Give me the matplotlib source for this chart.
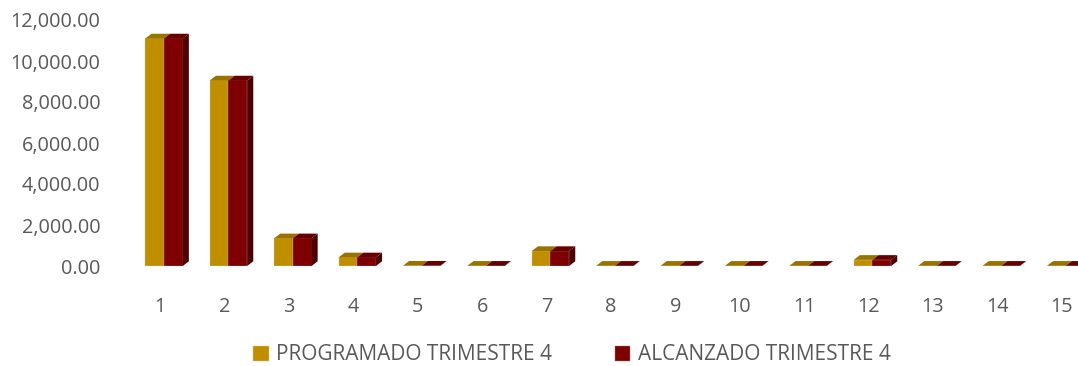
import matplotlib.pyplot as plt
from matplotlib.patches import Polygon

# datos
categorias = list(range(1, 16))
programado = [11100, 9050, 1350, 420, 15, 10, 730, 10, 10, 10, 10, 300, 10, 10, 10]
alcanzado = [11100, 9050, 1350, 420, 15, 10, 730, 10, 10, 10, 10, 300, 10, 10, 10]
etiquetas = ["PROGRAMADO TRIMESTRE 4", "ALCANZADO TRIMESTRE 4"]

color_prog = "#BF8F00"
color_prog_top = "#997300"
color_alc = "#7F0000"
color_alc_top = "#660000"
color_alc_side = "#4C0000"
gris = "#595959"

plt.rcParams['font.family'] = ['Open Sans', 'DejaVu Sans']

fig = plt.figure(figsize=(10.78, 3.66), dpi=100)
ax = fig.add_axes([128 / 1078, 100 / 366, (1094 - 128) / 1078, 246 / 366])

ancho = 0.29
dx = 0.095
dy = 230

x_prog = [c - 0.085 for c in categorias]
x_alc = [c + 0.205 for c in categorias]

ax.bar(x_prog, programado, width=ancho, color=color_prog, edgecolor="#d8c8a0",
       linewidth=0.3, label=etiquetas[0], zorder=2)
ax.bar(x_alc, alcanzado, width=ancho, color=color_alc, edgecolor="#b08080",
       linewidth=0.3, label=etiquetas[1], zorder=2)

# caras superiores y laterales para el efecto 3D
for xp, xa, vp, va in zip(x_prog, x_alc, programado, alcanzado):
    l, r = xp - ancho / 2, xp + ancho / 2
    ax.add_patch(Polygon([(l, vp), (r, vp), (r + dx, vp + dy), (l + dx, vp + dy)],
                         closed=True, facecolor=color_prog_top, edgecolor="none", zorder=2))
    l, r = xa - ancho / 2, xa + ancho / 2
    ax.add_patch(Polygon([(l, va), (r, va), (r + dx, va + dy), (l + dx, va + dy)],
                         closed=True, facecolor=color_alc_top, edgecolor="none", zorder=3))
    ax.add_patch(Polygon([(r, 0), (r, va), (r + dx, va + dy), (r + dx, dy)],
                         closed=True, facecolor=color_alc_side, edgecolor="none", zorder=3))

ax.set_xlim(0.5, 15.5)
ax.set_ylim(0, 12000)
ax.set_yticks(range(0, 12001, 2000))
ax.set_yticklabels([f"{v:,.2f}" for v in range(0, 12001, 2000)])
ax.set_xticks(categorias)
ax.set_xticklabels([str(c) for c in categorias])
ax.tick_params(axis='both', length=0, labelsize=14.3, colors=gris)
ax.tick_params(axis='y', pad=20)
ax.tick_params(axis='x', pad=22)
for s in ax.spines.values():
    s.set_visible(False)

fig.legend(loc='center', bbox_to_anchor=(572 / 1078, 11 / 366), ncol=2, frameon=False,
           fontsize=15, labelcolor=gris, handlelength=0.75, handleheight=0.75,
           handletextpad=0.35, columnspacing=3.0)

plt.savefig("out.png", dpi=100, facecolor="white")
